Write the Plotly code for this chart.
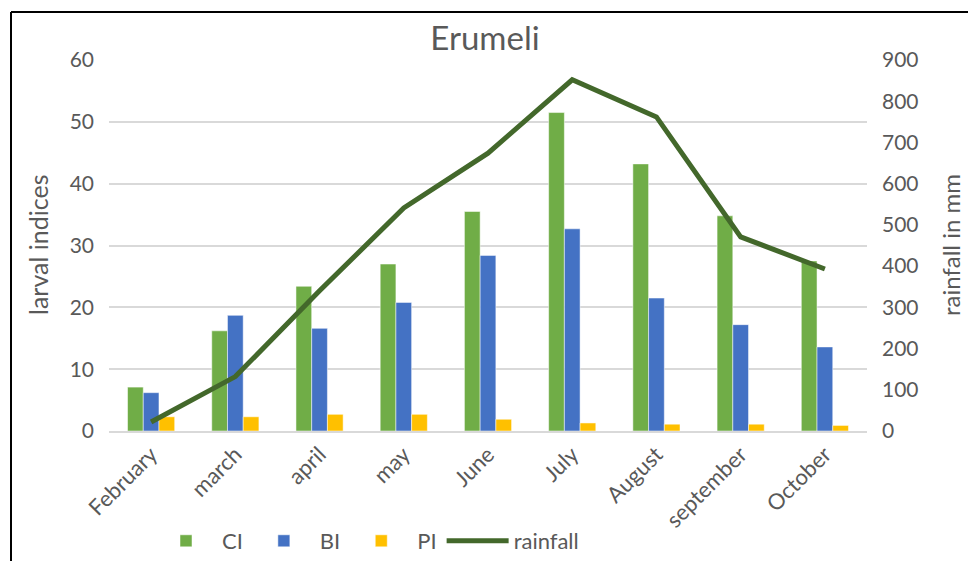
import plotly.graph_objects as go

months = ["February", "march", "april", "may", "June", "July", "August", "september", "October"]
ci = [7.1, 16.2, 23.4, 27.0, 35.5, 51.5, 43.2, 34.8, 27.5]
bi = [6.2, 18.7, 16.6, 20.8, 28.4, 32.7, 21.5, 17.2, 13.6]
pi = [2.3, 2.3, 2.7, 2.7, 1.9, 1.3, 1.1, 1.1, 0.9]
rainfall = [22, 132, 340, 541, 674, 852, 762, 471, 393]

FONT = "Lato"
GREY = "#595959"
W, H = 968, 561
L, R, T, B = 109, 101, 60, 130
pw, ph = W - L - R, H - T - B

def px(x):
    return (x - L) / pw

def py(y):
    return (H - B - y) / ph

fig = go.Figure()
fig.add_trace(go.Bar(name="CI", x=months, y=ci, marker_color="#70AD47",
                     marker_line=dict(color="white", width=0.5)))
fig.add_trace(go.Bar(name="BI", x=months, y=bi, marker_color="#4472C4",
                     marker_line=dict(color="white", width=0.5)))
fig.add_trace(go.Bar(name="PI", x=months, y=pi, marker_color="#FFC000",
                     marker_line=dict(color="white", width=0.5)))
fig.add_trace(go.Scatter(name="rainfall", x=months, y=rainfall, yaxis="y2",
                         mode="lines", line=dict(color="#43682B", width=5)))

fig.update_layout(
    width=W, height=H,
    margin=dict(l=L, r=R, t=T, b=B, autoexpand=False),
    paper_bgcolor="white", plot_bgcolor="white",
    font=dict(family=FONT, color=GREY, size=20),
    barmode="group", bargap=0.44, bargroupgap=0,
    title=dict(text="Erumeli", x=px(485), xref="paper", xanchor="center",
               y=1 - 38 / H, yanchor="middle", font=dict(size=33, color=GREY, family=FONT)),
    xaxis=dict(showgrid=False, showline=True, linecolor="#d9d9d9", linewidth=2,
               tickangle=-45, tickfont=dict(size=22, color=GREY), ticks=""),
    yaxis=dict(range=[0, 60], dtick=10, showgrid=True, gridcolor="#d9d9d9", gridwidth=2,
               zeroline=False, tickfont=dict(size=21, color=GREY), ticklabelstandoff=14),
    yaxis2=dict(range=[0, 900], dtick=100, overlaying="y", side="right", showgrid=False,
                zeroline=False, tickfont=dict(size=21, color=GREY), ticklabelstandoff=14),
    legend=dict(orientation="h", x=px(150), xanchor="left", y=py(541), yanchor="middle",
                font=dict(size=22, color=GREY), itemwidth=62, traceorder="normal"),
    showlegend=True,
    annotations=[
        dict(text="larval indices", xref="paper", yref="paper", x=px(38), y=py(245),
             textangle=-90, showarrow=False, font=dict(size=25, color=GREY),
             xanchor="center", yanchor="middle"),
        dict(text="rainfall in mm", xref="paper", yref="paper", x=px(950), y=py(245),
             textangle=-90, showarrow=False, font=dict(size=24, color=GREY),
             xanchor="center", yanchor="middle"),
    ],
    shapes=[
        dict(type="line", xref="paper", yref="paper", x0=px(11), x1=px(11),
             y0=py(12), y1=py(600), line=dict(color="black", width=2)),
        dict(type="line", xref="paper", yref="paper", x0=px(11), x1=px(1000),
             y0=py(12), y1=py(12), line=dict(color="black", width=2)),
    ],
)

fig.write_html("out.html")
